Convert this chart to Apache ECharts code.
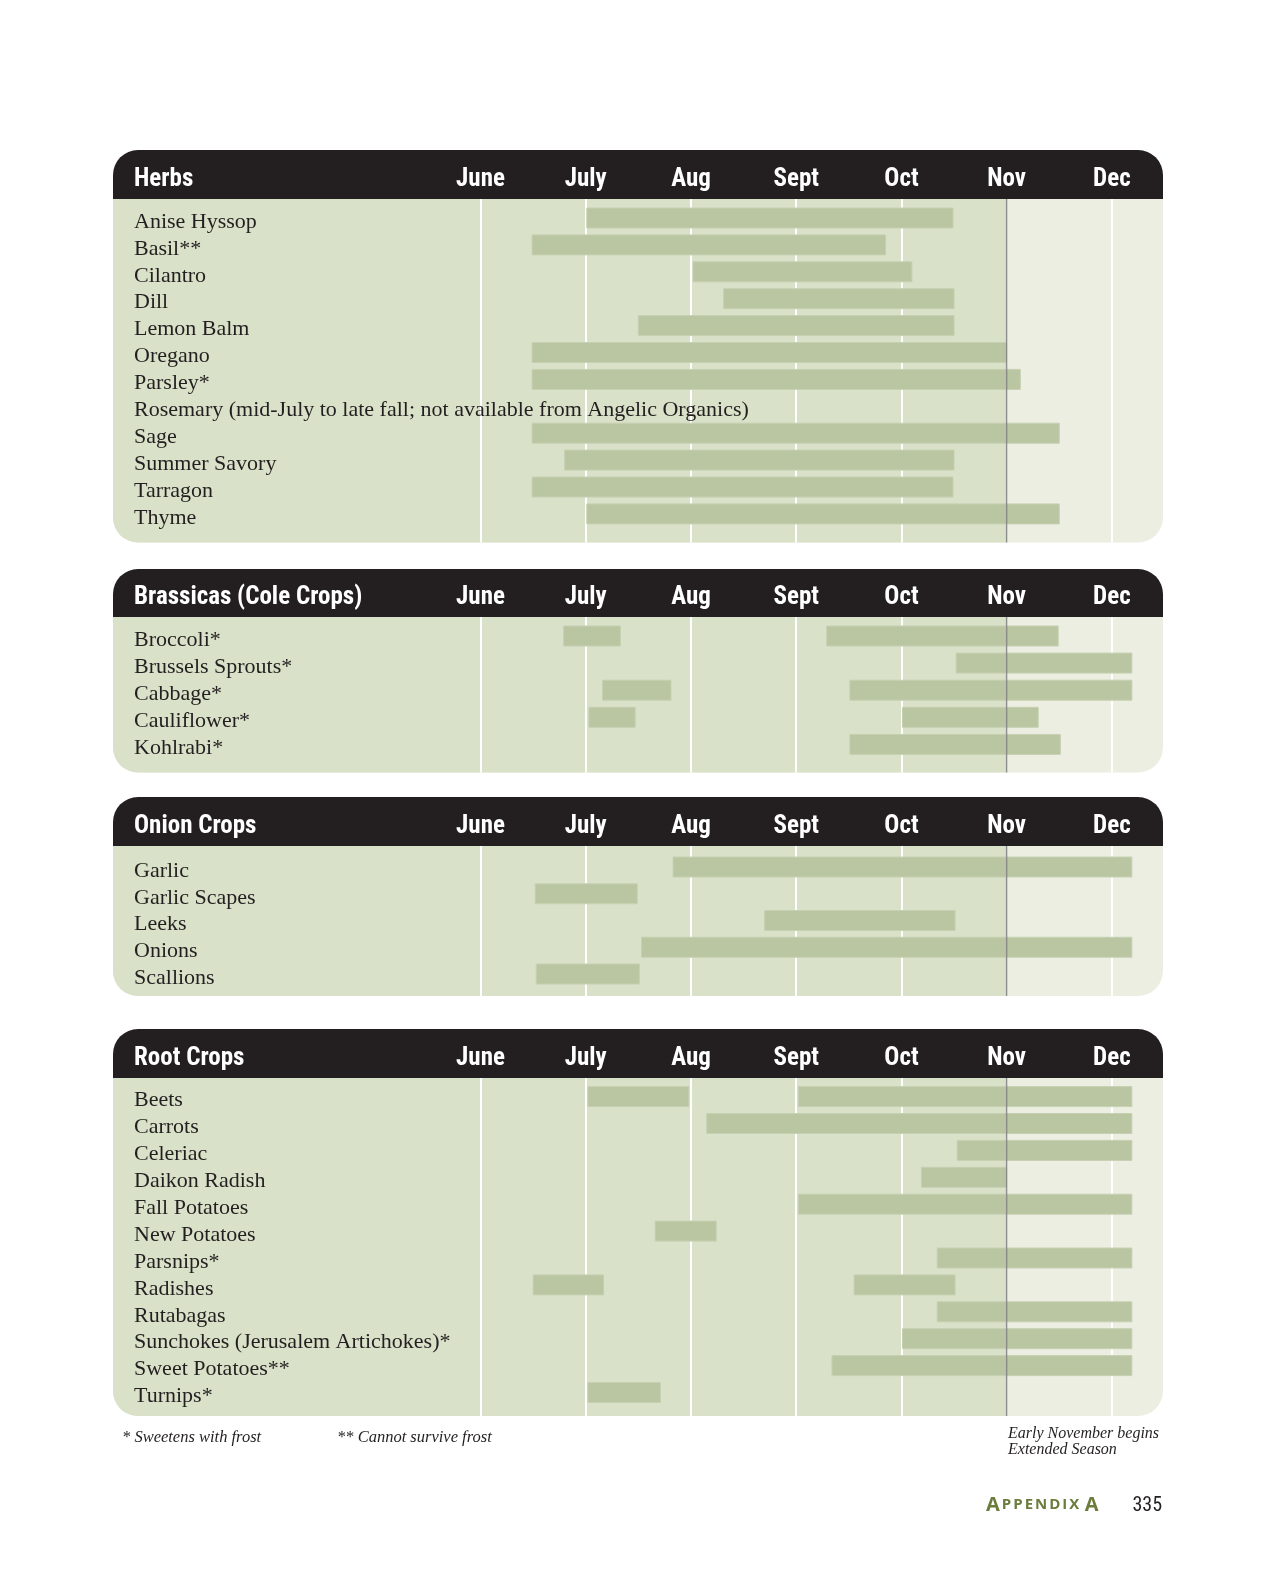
<!DOCTYPE html>
<html>
<head>
<meta charset="utf-8">
<script src="https://cdn.jsdelivr.net/npm/echarts@6/dist/echarts.min.js"></script>
<style>
html,body{margin:0;padding:0;background:#ffffff;}
#chart{width:1275px;height:1575px;}
</style>
</head>
<body>
<div id="chart"></div>
<script>
// ---------- data ----------
const months = ['June', 'July', 'Aug', 'Sept', 'Oct', 'Nov', 'Dec'];
const titles = ['Herbs', 'Brassicas (Cole Crops)', 'Onion Crops', 'Root Crops'];

const herbNames = ['Anise Hyssop', 'Basil**', 'Cilantro', 'Dill', 'Lemon Balm', 'Oregano', 'Parsley*',
  'Rosemary (mid-July to late fall; not available from Angelic Organics)', 'Sage', 'Summer Savory', 'Tarragon', 'Thyme'];
// [row, start (months after June 1), end]
const herbBars = [[0, 1.01, 4.49], [1, 0.49, 3.85], [2, 2.02, 4.10], [3, 2.31, 4.50], [4, 1.50, 4.50],
  [5, 0.49, 5.00], [6, 0.49, 5.13], [8, 0.49, 5.50], [9, 0.80, 4.50], [10, 0.49, 4.49], [11, 1.01, 5.50]];

const brassicaNames = ['Broccoli*', 'Brussels Sprouts*', 'Cabbage*', 'Cauliflower*', 'Kohlrabi*'];
const brassicaBars = [[0, 0.79, 1.33], [0, 3.29, 5.49], [1, 4.52, 6.19], [2, 1.16, 1.81], [2, 3.51, 6.19],
  [3, 1.03, 1.47], [3, 4.01, 5.30], [4, 3.51, 5.51]];

const onionNames = ['Garlic', 'Garlic Scapes', 'Leeks', 'Onions', 'Scallions'];
const onionBars = [[0, 1.83, 6.19], [1, 0.52, 1.49], [2, 2.70, 4.51], [3, 1.53, 6.19], [4, 0.53, 1.51]];

const rootNames = ['Beets', 'Carrots', 'Celeriac', 'Daikon Radish', 'Fall Potatoes', 'New Potatoes', 'Parsnips*',
  'Radishes', 'Rutabagas', 'Sunchokes (Jerusalem Artichokes)*', 'Sweet Potatoes**', 'Turnips*'];
const rootBars = [[0, 1.02, 1.98], [0, 3.02, 6.19], [1, 2.15, 6.19], [2, 4.53, 6.19], [3, 4.19, 5.00],
  [4, 3.02, 6.19], [5, 1.66, 2.24], [6, 4.34, 6.19], [7, 0.50, 1.17], [7, 3.55, 4.51], [8, 4.34, 6.19],
  [9, 4.01, 6.19], [10, 3.34, 6.19], [11, 1.02, 1.71]];

const extendedStart = 5;   // Nov: start of extended season
const axisMax = 6.5;

const footnotes = ['* Sweetens with frost', '** Cannot survive frost'];
const extendedNote = 'Early November begins\nExtended Season';
const pageNumber = '335';

// ---------- layout / style ----------
const PANEL_L = 113, PANEL_W = 1050, GRID_L = 480.5, GRID_W = 684, RADIUS = 25;
const LABEL_X = 134, BAR_H = 20, HEAD_MARGIN = 19;
const layout = [
  {headerTop: 150, bodyTop: 199, bodyBottom: 542.5, firstRow: 218, step: 26.9},
  {headerTop: 569, bodyTop: 617, bodyBottom: 772.5, firstRow: 636, step: 27.1},
  {headerTop: 797, bodyTop: 846, bodyBottom: 996, firstRow: 867, step: 26.75},
  {headerTop: 1029, bodyTop: 1078, bodyBottom: 1416, firstRow: 1096.6, step: 26.9}
];
const C_HEADER = '#231f20', C_BODY = '#d9e1c8', C_EXT = '#edeee2', C_BAR = '#bac6a2', C_NOV = '#8d8d8d';
const HEAD_FONT = '"Liberation Sans Narrow","Roboto Condensed","DejaVu Sans Condensed","Arial Narrow",sans-serif';
const SERIF = '"Liberation Serif","Times New Roman",serif';
const C_APPX = '#6b7c3c';

const panelNames = [herbNames, brassicaNames, onionNames, rootNames];
const panelBars = [herbBars, brassicaBars, onionBars, rootBars];

const chart = echarts.init(document.getElementById('chart'), null, {renderer: 'canvas'});

const grids = [], xAxes = [], yAxes = [], series = [];
layout.forEach((L, i) => {
  const n = panelNames[i].length;
  const yMin = -(L.firstRow - L.bodyTop) / L.step;
  const yMax = (n - 1) + (L.bodyBottom - (L.firstRow + (n - 1) * L.step)) / L.step;
  grids.push({left: GRID_L, width: GRID_W, top: L.bodyTop, height: L.bodyBottom - L.bodyTop, containLabel: false});
  xAxes.push({
    type: 'value', gridIndex: i, min: 0, max: axisMax, interval: 1, position: 'top',
    axisLine: {show: false}, axisTick: {show: false},
    splitLine: {show: true, lineStyle: {color: '#ffffff', width: 2}},
    axisLabel: {
      show: true, margin: HEAD_MARGIN, verticalAlign: 'middle', color: '#ffffff',
      fontFamily: HEAD_FONT, fontWeight: 'bold', fontSize: 25,
      formatter: v => (Number.isInteger(v) && months[v]) ? months[v] : ''
    }
  });
  yAxes.push({type: 'value', gridIndex: i, inverse: true, min: yMin, max: yMax, show: false});
  series.push({
    type: 'custom', name: titles[i] + ' bars', xAxisIndex: i, yAxisIndex: i, z: 2, clip: false,
    encode: {x: [1, 2], y: 0},
    data: panelBars[i],
    renderItem: (params, api) => {
      const a = api.coord([api.value(1), api.value(0)]);
      const b = api.coord([api.value(2), api.value(0)]);
      return {type: 'rect', shape: {x: a[0], y: a[1] - BAR_H / 2, width: b[0] - a[0], height: BAR_H},
        style: {fill: C_BAR, stroke: '#c6d0b2', lineWidth: 1}};
    }
  });
  const names = panelNames[i];
  series.push({
    type: 'custom', name: titles[i] + ' labels', xAxisIndex: i, yAxisIndex: i, z: 3, clip: false,
    encode: {x: 0, y: 1},
    data: names.map((nm, r) => [0, r]),
    renderItem: (params, api) => {
      const p = api.coord([0, api.value(1)]);
      return {type: 'text', x: LABEL_X, y: p[1] + 4,
        style: {text: names[params.dataIndex], fill: '#231f20', font: '22px ' + SERIF, align: 'left', verticalAlign: 'middle'}};
    }
  });
  series.push({
    type: 'line', name: titles[i] + ' Nov', xAxisIndex: i, yAxisIndex: i, z: 4, silent: true,
    symbol: 'none', lineStyle: {color: C_NOV, width: 1.5},
    data: [[extendedStart, yMin], [extendedStart, yMax]]
  });
});

chart.setOption({
  animation: false,
  backgroundColor: '#ffffff',
  grid: grids, xAxis: xAxes, yAxis: yAxes, series: series
});

// backgrounds, using the axis scale for the start of the extended season
const elements = [];
layout.forEach((L, i) => {
  const novX = chart.convertToPixel({xAxisIndex: i}, extendedStart);
  const h = L.bodyBottom - L.bodyTop;
  elements.push({type: 'rect', z: -1, z2: 0, silent: true,
    shape: {x: PANEL_L, y: L.headerTop, width: PANEL_W, height: L.bodyTop - L.headerTop, r: [RADIUS, RADIUS, 0, 0]},
    style: {fill: C_HEADER}});
  elements.push({type: 'rect', z: -1, z2: 0, silent: true,
    shape: {x: PANEL_L, y: L.bodyTop, width: PANEL_W, height: h, r: [0, 0, RADIUS, RADIUS]},
    style: {fill: C_EXT}});
  elements.push({type: 'rect', z: -1, z2: 1, silent: true,
    shape: {x: PANEL_L, y: L.bodyTop, width: novX - PANEL_L, height: h, r: [0, 0, 0, RADIUS]},
    style: {fill: C_BODY}});
  elements.push({type: 'text', z: 5, silent: true, x: LABEL_X, y: L.bodyTop - HEAD_MARGIN,
    style: {text: titles[i], fill: '#ffffff', font: 'bold 25px ' + HEAD_FONT, align: 'left', verticalAlign: 'middle'}});
});
elements.push({type: 'text', z: 5, x: 122, y: 1438,
  style: {text: footnotes[0], fill: '#231f20', font: 'italic 16.5px ' + SERIF, align: 'left', verticalAlign: 'middle'}});
elements.push({type: 'text', z: 5, x: 337, y: 1438,
  style: {text: footnotes[1], fill: '#231f20', font: 'italic 16.5px ' + SERIF, align: 'left', verticalAlign: 'middle'}});
elements.push({type: 'text', z: 5, x: 1008, y: 1426,
  style: {text: extendedNote, fill: '#231f20', font: 'italic 16px ' + SERIF, lineHeight: 16, align: 'left', verticalAlign: 'top'}});
const appxFontA = 'bold 20px "Open Sans",' + HEAD_FONT;
const appxFontB = 'bold 15px "Open Sans",' + HEAD_FONT;
elements.push({type: 'text', z: 5, x: 986, y: 1505,
  style: {text: '{a|A}{b|P}{b|P}{b|E}{b|N}{b|D}{b|I}{b|X} {a|A}', align: 'left', verticalAlign: 'middle',
    rich: {a: {fill: C_APPX, font: appxFontA, padding: [0, 2, 0, 0]},
           b: {fill: C_APPX, font: appxFontB, padding: [0, 2, 0, 0]}}}});
elements.push({type: 'text', z: 5, x: 1162, y: 1506,
  style: {text: pageNumber, fill: '#231f20', font: '20px ' + HEAD_FONT, align: 'right', verticalAlign: 'middle'}});

chart.setOption({graphic: {elements: elements}});
</script>
</body>
</html>
